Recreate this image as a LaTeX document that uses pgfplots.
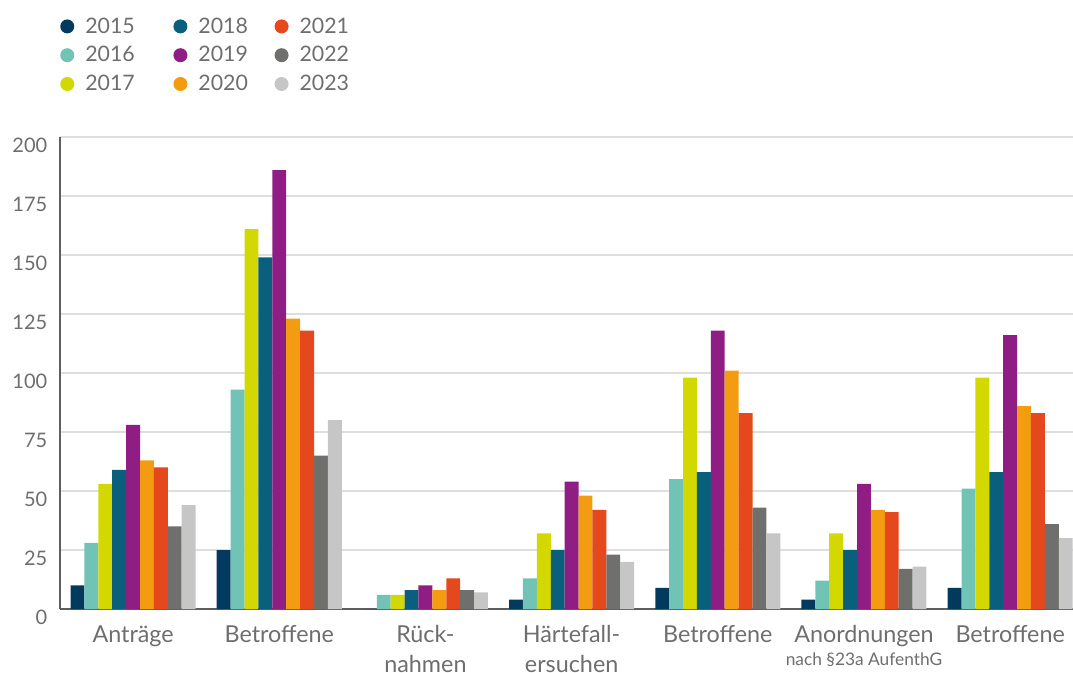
\documentclass[border=0pt]{standalone}
\usepackage{fontspec}
\setmainfont{Lato}
\usepackage{pgfplots}
\pgfplotsset{compat=1.18}

\definecolor{c2015}{HTML}{023A5E}
\definecolor{c2016}{HTML}{71C3B5}
\definecolor{c2017}{HTML}{D3D800}
\definecolor{c2018}{HTML}{0A5F7D}
\definecolor{c2019}{HTML}{901D83}
\definecolor{c2020}{HTML}{F39C12}
\definecolor{c2021}{HTML}{E5481C}
\definecolor{c2022}{HTML}{6F6F6E}
\definecolor{c2023}{HTML}{C5C6C5}
\definecolor{txtgray}{HTML}{6E6E6E}
\definecolor{gridgray}{HTML}{DEDEDE}
\definecolor{axgray}{HTML}{5E5E5E}

\begin{document}
\begin{tikzpicture}
\path[use as bounding box] (0,0) rectangle (804.75pt,504pt);
\begin{axis}[
    at={(45pt,47.25pt)}, anchor=south west,
    scale only axis, width=759.75pt, height=354pt,
    xmin=-0.5, xmax=6.43, ymin=0, ymax=200,
    ybar=0pt, bar width=10.42pt,
    ytick={0,25,...,200},
    xtick={0,...,6},
    xticklabels={Anträge, Betroffene, Rück-\\nahmen, Härtefall-\\ersuchen, Betroffene,
        Anordnungen\\[-5pt]{\fontsize{13}{15}\selectfont nach §23a AufenthG}, Betroffene},
    axis x line*=bottom, axis y line*=left,
    x axis line style={line width=2.2pt, color=axgray},
    y axis line style={line width=2.2pt, color=axgray},
    major tick length=0pt,
    ymajorgrids, grid style={line width=1.4pt, color=gridgray},
    tick label style={font=\fontsize{15}{18}\selectfont, text=txtgray},
    /pgf/number format/assume math mode=true,
    yticklabel style={xshift=-6pt, yshift=-6.5pt},
    xticklabel style={align=center, yshift=-9pt, font=\fontsize{17.5}{22}\selectfont},
    legend columns=3, transpose legend,
    legend style={at={(0,1.259)}, anchor=north west, draw=none, fill=none,
        inner sep=0pt, font=\fontsize{16}{19}\selectfont, text=txtgray,
        row sep=4.5pt,
        /tikz/every odd column/.append style={column sep=6.25pt},
        /tikz/column 2/.style={column sep=27pt},
        /tikz/column 4/.style={column sep=18pt}},
    legend cell align=left,
    legend image code/.code={\fill[#1] (5.25pt,0pt) circle (5.25pt);},
]
\addplot[fill=c2015, draw=none] coordinates {(0,10) (1,25) (2,0) (3,4) (4,9) (5,4) (6,9)};
\addplot[fill=c2016, draw=none] coordinates {(0,28) (1,93) (2,6) (3,13) (4,55) (5,12) (6,51)};
\addplot[fill=c2017, draw=none] coordinates {(0,53) (1,161) (2,6) (3,32) (4,98) (5,32) (6,98)};
\addplot[fill=c2018, draw=none] coordinates {(0,59) (1,149) (2,8) (3,25) (4,58) (5,25) (6,58)};
\addplot[fill=c2019, draw=none] coordinates {(0,78) (1,186) (2,10) (3,54) (4,118) (5,53) (6,116)};
\addplot[fill=c2020, draw=none] coordinates {(0,63) (1,123) (2,8) (3,48) (4,101) (5,42) (6,86)};
\addplot[fill=c2021, draw=none] coordinates {(0,60) (1,118) (2,13) (3,42) (4,83) (5,41) (6,83)};
\addplot[fill=c2022, draw=none] coordinates {(0,35) (1,65) (2,8) (3,23) (4,43) (5,17) (6,36)};
\addplot[fill=c2023, draw=none] coordinates {(0,44) (1,80) (2,7) (3,20) (4,32) (5,18) (6,30)};
\legend{2015,2016,2017,2018,2019,2020,2021,2022,2023}
\end{axis}
\end{tikzpicture}
\end{document}
